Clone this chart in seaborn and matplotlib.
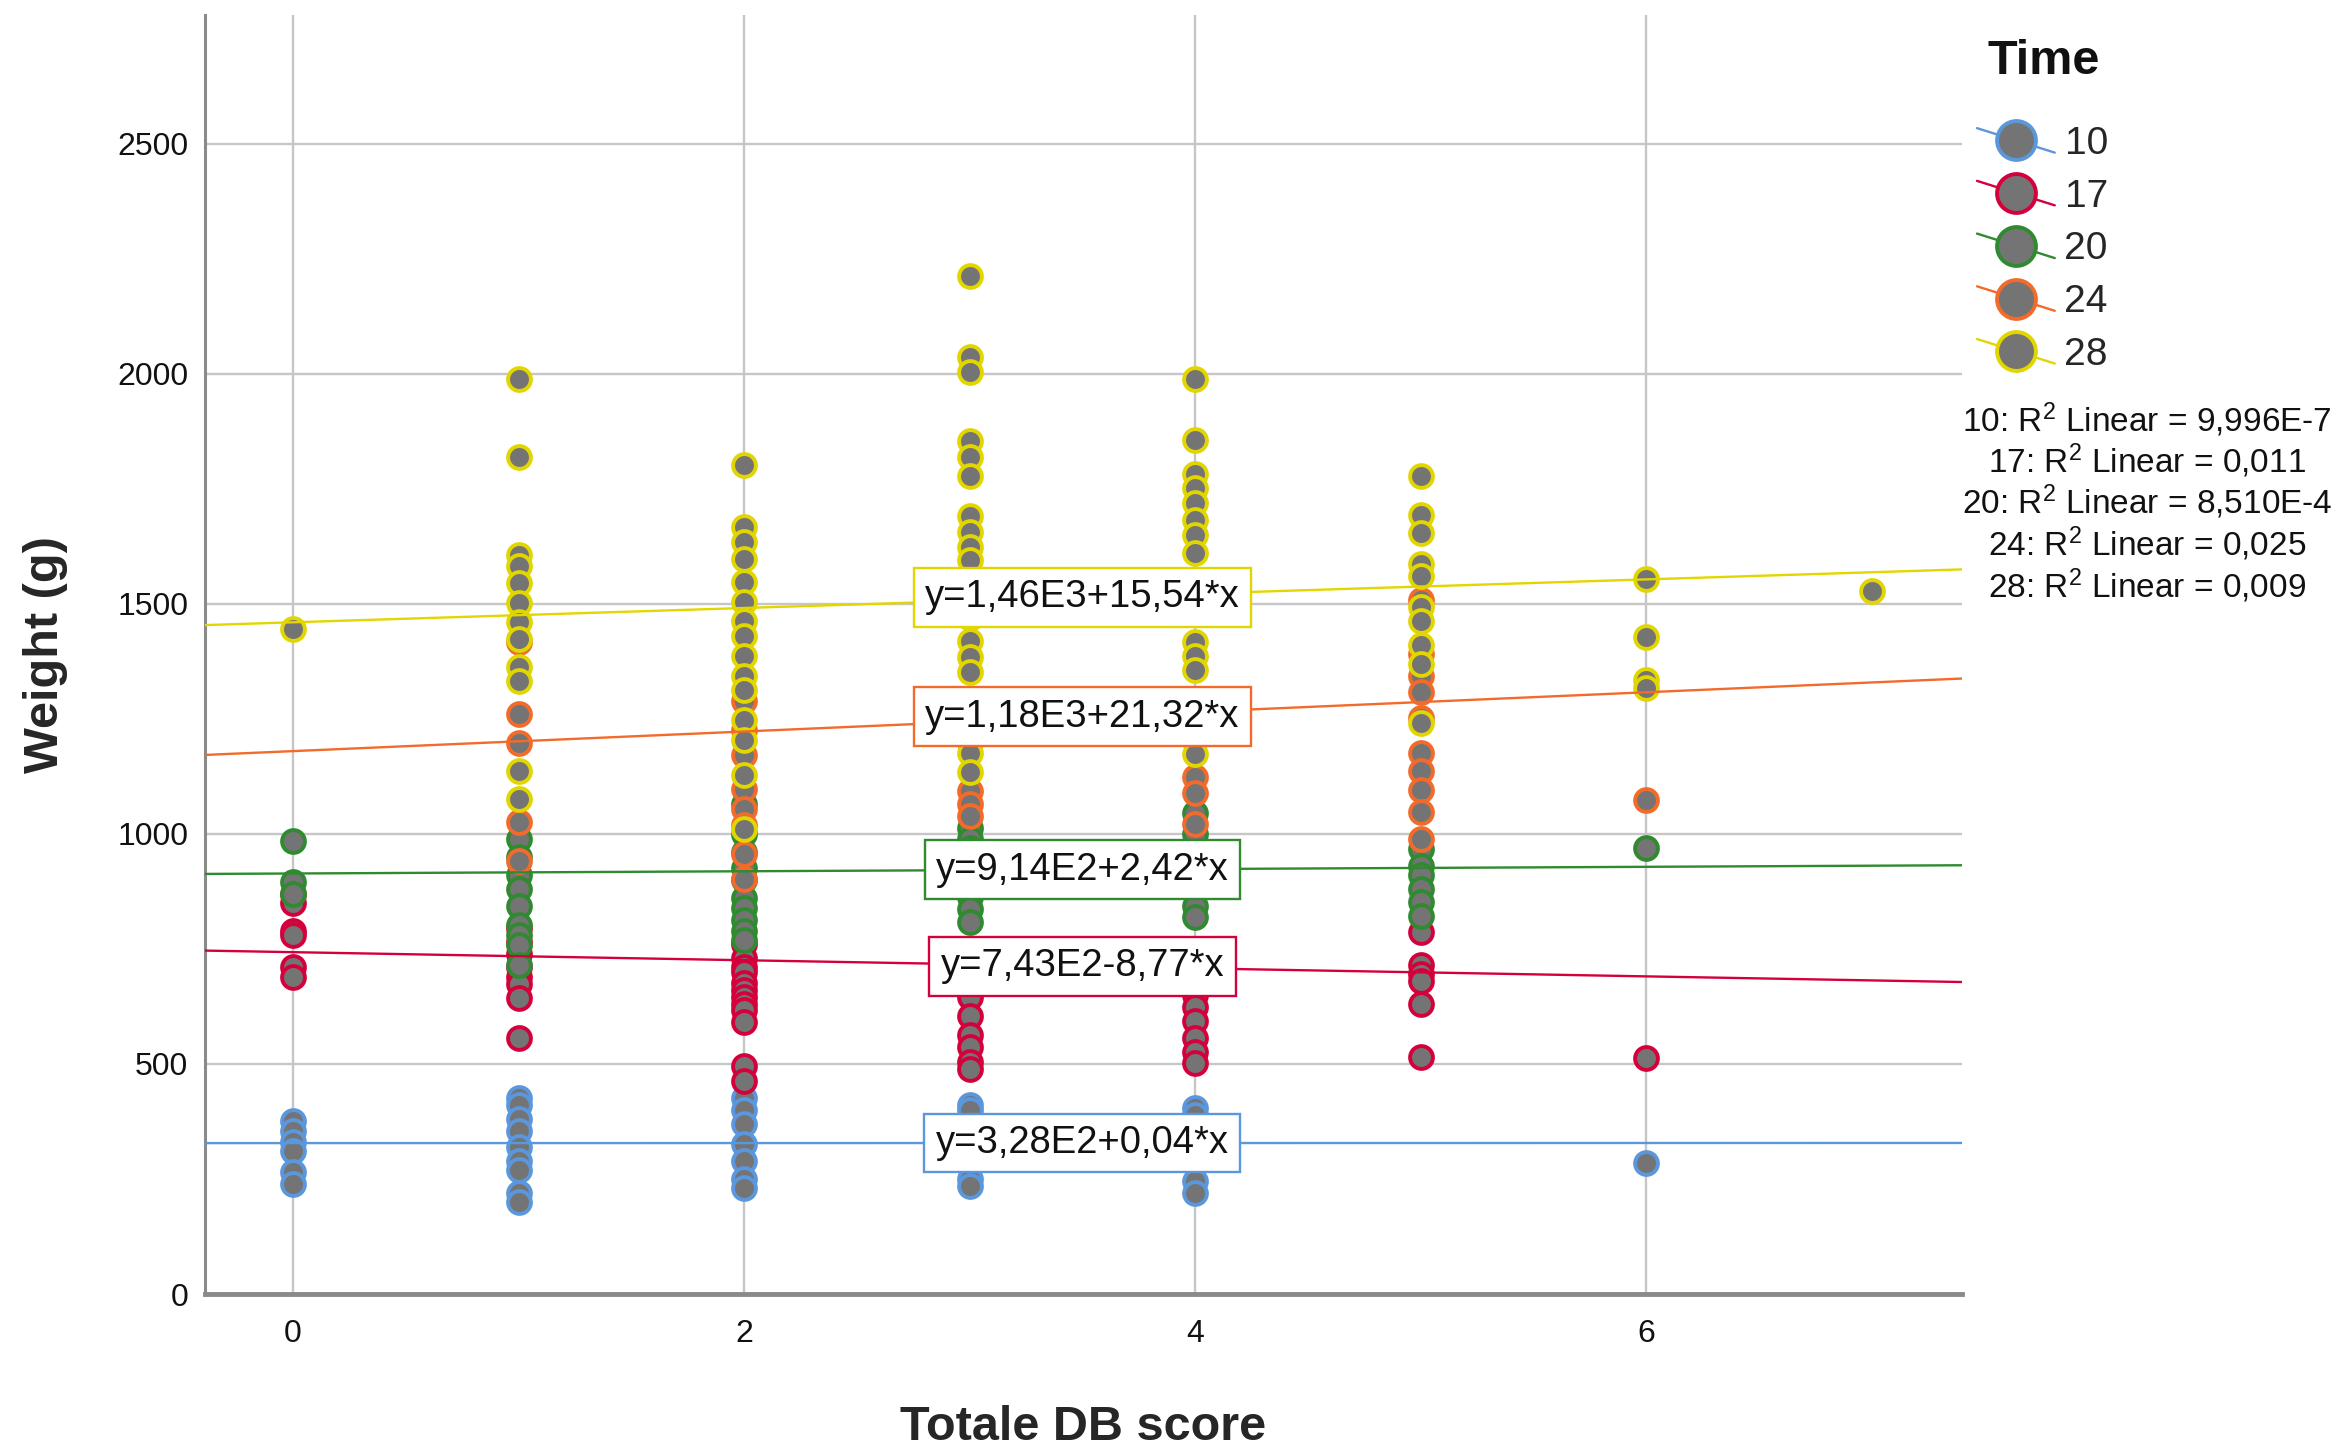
import numpy as np
import pandas as pd
import matplotlib
matplotlib.use("Agg")
import matplotlib.pyplot as plt
import seaborn as sns
from matplotlib.lines import Line2D
from matplotlib.legend_handler import HandlerBase

# ---------------- data ----------------
times = ["10", "17", "20", "24", "28"]
line_colors = ["#5b97dc", "#d4003c", "#2f8a30", "#f26b2b", "#e2d600"]

score_t10 = [0, 0, 0, 0, 0, 0, 1, 1, 1, 1, 1, 1, 1, 1, 1, 2, 2, 2, 2, 2, 2, 2, 3, 3, 3, 3, 3, 3, 3, 4, 4, 4, 4, 6]
weight_t10 = [375, 355, 330, 310, 265, 240, 425, 410, 380, 355, 320, 290, 270, 220, 200,
              425, 400, 370, 325, 290, 250, 230, 410, 400, 350, 320, 300, 250, 235,
              405, 390, 245, 220, 285]

score_t17 = [0, 0, 0, 0, 0, 0, 1, 1, 1, 1, 1, 1, 1, 1,
             2, 2, 2, 2, 2, 2, 2, 2, 2, 2, 2, 2,
             3, 3, 3, 3, 3, 3, 3, 3, 4, 4, 4, 4, 4, 4, 4,
             5, 5, 5, 5, 5, 5, 6]
weight_t17 = [870, 850, 790, 780, 710, 690, 795, 765, 740, 710, 690, 673, 643, 557,
              760, 731, 710, 699, 677, 660, 645, 630, 618, 591, 495, 462,
              700, 673, 646, 605, 564, 537, 505, 490, 680, 650, 624, 594, 557, 527, 502,
              786, 715, 695, 680, 631, 515, 512]

score_t20 = [0, 0, 0, 1, 1, 1, 1, 1, 1, 1, 1, 1,
             2, 2, 2, 2, 2, 2, 2, 2, 2, 2,
             3, 3, 3, 3, 3, 3, 3, 4, 4, 4, 4, 4, 4,
             5, 5, 5, 5, 5, 5, 6]
weight_t20 = [985, 895, 870, 990, 950, 911, 880, 844, 801, 780, 759, 716,
              1065, 1000, 960, 925, 900, 860, 840, 812, 790, 769,
              1012, 990, 970, 940, 863, 836, 809, 1045, 1000, 960, 930, 844, 820,
              967, 930, 910, 880, 852, 821, 970]

score_t24 = [1, 1, 1, 1, 1, 2, 2, 2, 2, 2, 2, 2, 2,
             3, 3, 3, 3, 3, 4, 4, 4, 4, 4,
             5, 5, 5, 5, 5, 5, 5, 5, 5, 5, 6]
weight_t24 = [1417, 1261, 1198, 1027, 941, 1290, 1226, 1172, 1097, 1054, 1020, 957, 903,
              1250, 1200, 1094, 1066, 1039, 1234, 1204, 1124, 1088, 1021,
              1508, 1392, 1344, 1308, 1251, 1175, 1136, 1096, 1047, 989, 1074]

score_t28 = [0,
             1, 1, 1, 1, 1, 1, 1, 1, 1, 1, 1, 1,
             2, 2, 2, 2, 2, 2, 2, 2, 2, 2, 2, 2, 2, 2, 2,
             3, 3, 3, 3, 3, 3, 3, 3, 3, 3, 3, 3, 3, 3, 3, 3, 3, 3, 3,
             4, 4, 4, 4, 4, 4, 4, 4, 4, 4, 4, 4, 4,
             5, 5, 5, 5, 5, 5, 5, 5, 5, 5,
             6, 6, 6, 6, 7]
weight_t28 = [1445,
              1988, 1820, 1606, 1582, 1545, 1502, 1460, 1423, 1362, 1332, 1137, 1076,
              1801, 1667, 1634, 1597, 1548, 1505, 1462, 1430, 1387, 1344, 1312, 1247, 1204, 1129, 1011,
              2213, 2037, 2003, 1853, 1820, 1779, 1691, 1657, 1623, 1596, 1530, 1500, 1470, 1419, 1385, 1351, 1243, 1175, 1134,
              1988, 1856, 1783, 1751, 1720, 1683, 1649, 1610, 1540, 1417, 1387, 1356, 1173,
              1778, 1694, 1654, 1587, 1560, 1494, 1463, 1410, 1370, 1242,
              1554, 1429, 1335, 1317, 1529]

fit_intercepts = [328.0, 743.0, 914.0, 1180.0, 1460.0]
fit_slopes = [0.04, -8.77, 2.42, 21.32, 15.54]
fit_labels = ["y=3,28E2+0,04*x", "y=7,43E2-8,77*x", "y=9,14E2+2,42*x",
              "y=1,18E3+21,32*x", "y=1,46E3+15,54*x"]
r2_labels = ["9,996E-7", "0,011", "8,510E-4", "0,025", "0,009"]

x_ticks = [0, 2, 4, 6]
y_ticks = [0, 500, 1000, 1500, 2000, 2500]

scores = [score_t10, score_t17, score_t20, score_t24, score_t28]
weights = [weight_t10, weight_t17, weight_t20, weight_t24, weight_t28]
df = pd.concat([pd.DataFrame({"score": s, "weight": w, "Time": t})
                for s, w, t in zip(scores, weights, times)], ignore_index=True)

# ---------------- style ----------------
sns.set_theme(style="white")
plt.rcParams["font.family"] = ["Liberation Sans", "DejaVu Sans"]
plt.rcParams["mathtext.fontset"] = "custom"
plt.rcParams["mathtext.rm"] = "Liberation Sans"
plt.rcParams["mathtext.it"] = "Liberation Sans"

W, H = 2343, 1446
fig = plt.figure(figsize=(W / 100, H / 100), dpi=100)
ax = fig.add_axes([205 / W, 1 - 1294 / H, (1962 - 205) / W, (1294 - 15) / H])

fill_gray = "#747474"
for t, col in zip(times, line_colors):
    sub = df[df["Time"] == t]
    sns.scatterplot(data=sub, x="score", y="weight", ax=ax, color=fill_gray,
                    edgecolor=col, linewidth=2.8, s=270, legend=False, zorder=3)

for b, m, col, lab in zip(fit_intercepts, fit_slopes, line_colors, fit_labels):
    ax.axline((0, b), slope=m, color=col, lw=1.7, zorder=4)
    xl = 3.5
    ax.text(xl, b + m * xl, lab, ha="center", va="center", fontsize=27.5, color="#111111",
            zorder=6,
            bbox=dict(boxstyle="square,pad=0.3", facecolor="white", edgecolor=col, lw=1.7))

ax.set_xlim(-0.39, 7.4)
ax.set_ylim(0, 2780)
ax.set_xticks(x_ticks)
ax.set_yticks(y_ticks)
ax.grid(True, color="#c6c6c6", lw=1.7)
ax.set_axisbelow(True)
for s in ["top", "right"]:
    ax.spines[s].set_visible(False)
ax.spines["left"].set_color("#8a8a8a")
ax.spines["left"].set_linewidth(2.2)
ax.spines["bottom"].set_color("#8a8a8a")
ax.spines["bottom"].set_linewidth(3.5)
ax.tick_params(axis="both", length=0, labelsize=23, colors="#111111")
ax.tick_params(axis="x", pad=18)
ax.tick_params(axis="y", pad=12)

ax.set_xlabel("Totale DB score", fontsize=35, fontweight="bold", va="center")
ax.set_ylabel("Weight (g)", fontsize=35, fontweight="bold", va="center")
ax.xaxis.set_label_coords(0.5, (1294 - 1428) / 1279)
ax.yaxis.set_label_coords((45 - 205) / 1757, 0.5)


class DiagMarkerHandler(HandlerBase):
    def create_artists(self, legend, orig_handle, xdescent, ydescent, width, height,
                       fontsize, trans):
        col = orig_handle.get_color()
        x0 = -xdescent
        x1 = -xdescent + width
        yc = -ydescent + height / 2
        dy = height * 0.45
        ln = Line2D([x0, x1], [yc + dy, yc - dy], color=col, lw=1.7, transform=trans)
        mk = Line2D([(x0 + x1) / 2], [yc], ls="none", marker="o",
                    markersize=orig_handle.get_markersize(),
                    markerfacecolor=fill_gray, markeredgecolor=col,
                    markeredgewidth=2.8, transform=trans)
        return [ln, mk]


handles = [Line2D([], [], color=c, marker="o", markersize=28) for c in line_colors]
leg = fig.legend(handles, times, loc="upper left",
                 bbox_to_anchor=(1977 / W, 1 - 126 / H), frameon=False,
                 fontsize=28, alignment="left", handlelength=2.0, handletextpad=0.25,
                 labelspacing=0.43, borderpad=0, borderaxespad=0,
                 handler_map={Line2D: DiagMarkerHandler()})
fig.text(1987 / W, 1 - 62 / H, "Time", ha="left", va="center", fontsize=35,
         fontweight="bold", color="#111111")

r2_y = [420, 461, 502, 544, 586]
for t, r2, yy in zip(times, r2_labels, r2_y):
    fig.text(2147 / W, 1 - yy / H, f"{t}: R$^2$ Linear = {r2}", ha="center", va="center",
             fontsize=24, color="#111111")

fig.savefig("out.png", dpi=100, facecolor="white")
